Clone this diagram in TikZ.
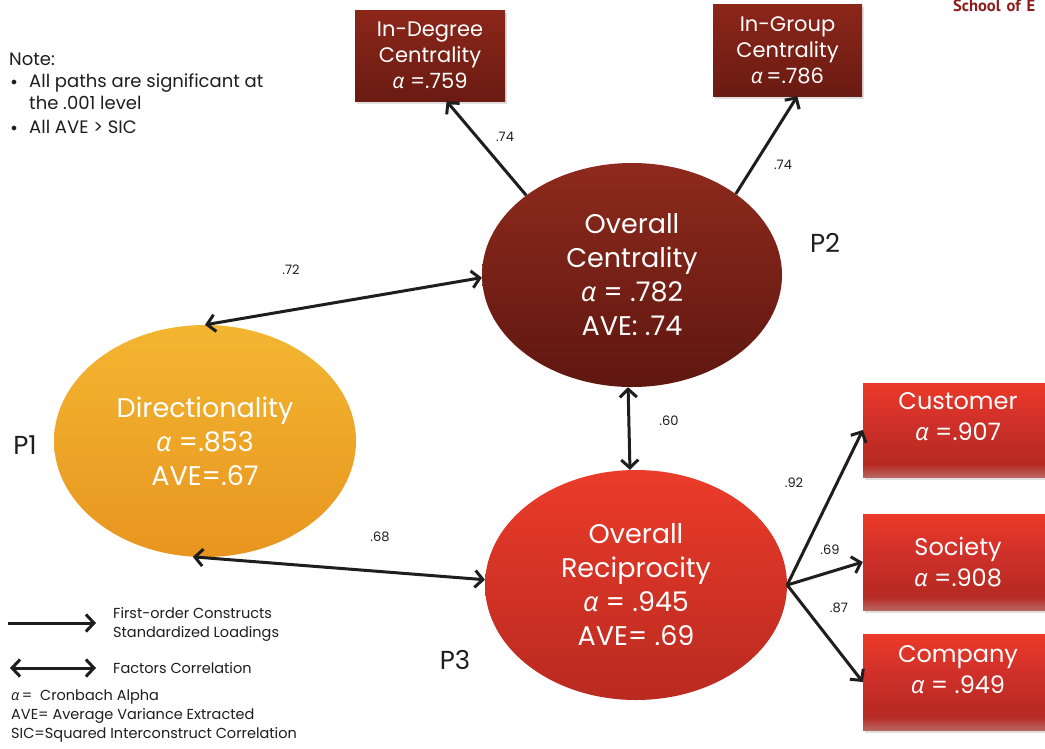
\documentclass[tikz,border=0pt]{standalone}
\usepackage{fontspec}
\setmainfont{Poppins}
\newfontfamily\schoolfont{PT Sans}
\newfontfamily\alphafont{Open Sans}
\newcommand{\al}{{\alphafont\itshape α}}
\newcommand{\notebullet}{\raisebox{1.8pt}{\fontsize{13}{13}\selectfont$\bullet$}}
\usetikzlibrary{arrows.meta,shapes.geometric,calc,shadows}

\definecolor{ink}{HTML}{1E1E1E}
\definecolor{wineTop}{HTML}{8E2A1D}
\definecolor{wineBot}{HTML}{5F1710}
\definecolor{boxWineTop}{HTML}{8C261A}
\definecolor{boxWineBot}{HTML}{6A1B12}
\definecolor{amberTop}{HTML}{F3B631}
\definecolor{amberBot}{HTML}{E8951F}
\definecolor{scarletTop}{HTML}{EB3B2A}
\definecolor{scarletBot}{HTML}{B92A20}
\definecolor{boxRedTop}{HTML}{EC3A28}
\definecolor{boxRedMid}{HTML}{D0302A}
\definecolor{boxRedDark}{HTML}{B52A22}
\definecolor{boxRedBot}{HTML}{BA6460}
\definecolor{schoolRed}{HTML}{8E1B1B}

% red indicator fill: bright top, deep red body, pale band at the foot
\pgfdeclareverticalshading{redindicator}{100bp}{%
  color(0bp)=(boxRedBot); color(25bp)=(boxRedBot); color(32bp)=(boxRedDark);
  color(55bp)=(boxRedMid); color(75bp)=(boxRedTop); color(100bp)=(boxRedTop)}

\tikzset{
  conn/.style={line width=3pt, draw=ink},
  barb/.tip={Straight Barb[length=8pt,width=17pt]},
  onehead/.style={conn, -barb},
  twohead/.style={conn, barb-barb},
  construct/.style={ellipse, minimum width=302, minimum height=228, inner sep=0,
    align=center, text=white, font=\fontsize{27}{34}\selectfont},
  wineind/.style={rectangle, inner sep=0, align=center, text=white,
    top color=boxWineTop, bottom color=boxWineBot,
    drop shadow={opacity=0.25, shadow xshift=2pt, shadow yshift=-3pt},
    font=\fontsize{21}{26}\selectfont},
  redind/.style={rectangle, inner sep=0, minimum width=197,
    shading=redindicator, shading angle=0,
    drop shadow={opacity=0.25, shadow xshift=2pt, shadow yshift=-3pt}},
  redtext/.style={align=center, text=white, inner sep=0,
    font=\fontsize{24}{31}\selectfont},
  coef/.style={font=\fontsize{13}{15}\selectfont, text=ink, inner sep=0},
  plabel/.style={font=\fontsize{26}{30}\selectfont, text=ink, inner sep=0},
  legendtext/.style={font=\fontsize{14.5}{19}\selectfont, text=ink, inner sep=0, align=left},
}

\begin{document}
\begin{tikzpicture}[x=1pt, y=-1pt]
  \useasboundingbox (0,0) rectangle (1045,748);
  \clip (0,0) rectangle (1045,748);
  \fill[white] (0,0) rectangle (1045,748);

  % header, running off the right edge
  \node[anchor=north west, inner sep=0, text=schoolRed,
        font=\schoolfont\bfseries\fontsize{16.5}{19}\selectfont] (school) at (953,0)
    {School\hspace{6pt}of\hspace{6pt}E};

  % note
  \node[anchor=north west, inner sep=0, text=ink, font=\fontsize{18}{22}\selectfont] (note) at (9,50)
    {\begin{tabular}{@{}l@{\hspace{12pt}}l@{}}
       \multicolumn{2}{@{}l}{Note:}\\
       \hspace{2pt}\notebullet & All paths are significant at\\
                 & the .001 level\\[2pt]
       \hspace{2pt}\notebullet & All AVE > SIC
     \end{tabular}};

  % latent constructs
  \node[construct, top color=wineTop, bottom color=wineBot,
        minimum width=300, minimum height=224] (cen) at (632,275)
    {Overall\\Centrality\\\al\ = .782\\AVE: .74};
  \node[construct, top color=amberTop, bottom color=amberBot,
        minimum width=302, minimum height=232] (dir) at (205,441)
    {Directionality\\\al\ =.853\\AVE=.67};
  \node[construct, top color=scarletTop, bottom color=scarletBot,
        minimum width=302, minimum height=230] (rec) at (636,585)
    {Overall\\Reciprocity\\\al\ = .945\\AVE= .69};

  % indicators of centrality
  \node[wineind, minimum width=150, minimum height=91] (indeg) at (430,55.5)
    {In-Degree\\Centrality\\\al\ =.759};
  \node[wineind, minimum width=149, minimum height=92] (ingr) at (787.5,50)
    {In-Group\\Centrality\\\al\,=.786};

  % indicators of reciprocity
  \node[redind, minimum height=94] (cust) at (961.5,430) {};
  \node[redind, minimum height=96] (soc)  at (961.5,562) {};
  \node[redind, minimum height=96] (comp) at (961.5,682) {};
  \node[redtext] (custtxt) at (958,417) {Customer\\\al\ =.907};
  \node[redtext] (soctxt)  at (958,562) {Society\\\al\ =.908};
  \node[redtext] (comptxt) at (958,670) {Company\\\al\ = .949};

  % construct labels
  \node[plabel] (p1) at (25,445) {P1};
  \node[plabel] (p2) at (825,243) {P2};
  \node[plabel] (p3) at (455,660) {P3};

  % loadings
  \draw[onehead] (cen.143) -- (indeg.-70);
  \draw[onehead] (cen.38) -- (ingr.-78);
  \draw[onehead] (rec.east) -- (cust.west);
  \draw[onehead] (rec.east) -- (soc.west);
  \draw[onehead] (rec.east) -- (comp.west);

  % correlations
  \draw[twohead] (dir.90) -- (cen.181);
  \draw[twohead] (dir.-96) -- (rec.178);
  \draw[twohead] (cen.-92) -- (rec.93);

  % coefficients
  \node[coef] (c1) at (505,137) {.74};
  \node[coef] (c2) at (783,165) {.74};
  \node[coef] (c3) at (291,270) {.72};
  \node[coef] (c4) at (380,537) {.68};
  \node[coef] (c5) at (669,421) {.60};
  \node[coef] (c6) at (794,483) {.92};
  \node[coef] (c7) at (830,550) {.69};
  \node[coef] (c8) at (839,608) {.87};

  % legend
  \coordinate (l1a) at (8,623);
  \coordinate (l1b) at (96,623);
  \coordinate (l2a) at (10,668);
  \coordinate (l2b) at (96,668);
  \draw[onehead] (l1a) -- (l1b);
  \draw[twohead] (l2a) -- (l2b);
  \node[legendtext, anchor=west] (lg1) at (113,624) {First-order Constructs\\Standardized Loadings};
  \node[legendtext, anchor=west] (lg2) at (113,668) {Factors Correlation};
  \node[legendtext, anchor=north west] (lg3) at (11,690)
    {\al\,=\ \ Cronbach Alpha\\AVE= Average Variance Extracted\\SIC=Squared Interconstruct Correlation};
\end{tikzpicture}
\end{document}
